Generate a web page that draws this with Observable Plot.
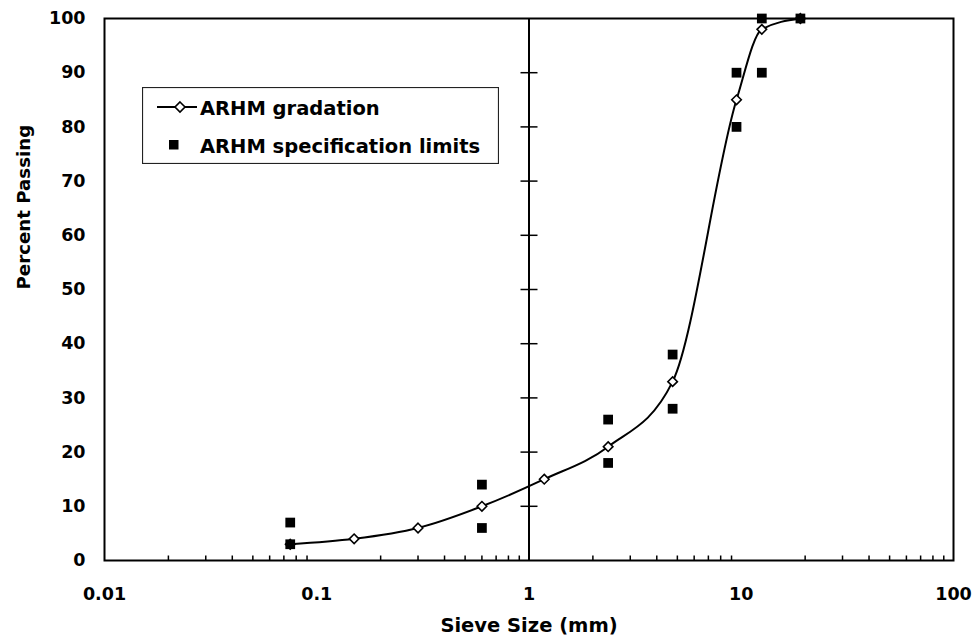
<!DOCTYPE html>
<html>
<head>
<meta charset="utf-8">
<script src="https://cdn.jsdelivr.net/npm/d3@7"></script>
<script src="https://cdn.jsdelivr.net/npm/@observablehq/plot@0.6"></script>
<style>
  body { margin: 0; background: #fff; }
  #chart { position: relative; width: 975px; height: 644px; }
  #legend { position: absolute; left: 142px; top: 87px; }
</style>
</head>
<body>
<div id="chart"></div>
<script>
// Gradation curve (open diamonds)
const sieveSizes = [0.075, 0.15, 0.3, 0.6, 1.18, 2.36, 4.75, 9.5, 12.5, 19];
const percentPassing = [3, 4, 6, 10, 15, 21, 33, 85, 98, 100];
// Specification limits (filled squares)
const specSizes = [0.075, 0.075, 0.6, 0.6, 2.36, 2.36, 4.75, 4.75, 9.5, 9.5, 12.5, 12.5, 19];
const specLimits = [3, 7, 6, 14, 18, 26, 28, 38, 80, 90, 90, 100, 100];
// Axes
const xMajorTicks = [0.01, 0.1, 1, 10, 100];
const xMinorMultipliers = [2, 3, 4, 5, 6, 7, 8, 9];
const yTickValues = [0, 10, 20, 30, 40, 50, 60, 70, 80, 90, 100];
const yCrossTicks = [10, 20, 30, 40, 50, 60, 70, 80, 90];
const seriesNames = ["ARHM gradation", "ARHM specification limits"];
const xTitle = "Sieve Size (mm)";
const yTitle = "Percent Passing";

const gradation = sieveSizes.map((s, i) => ({size: s, pass: percentPassing[i]}));
const spec = specSizes.map((s, i) => ({size: s, pass: specLimits[i]}));
const xMinorTicks = xMajorTicks.slice(0, -1).flatMap(d => xMinorMultipliers.map(k => k * d));

const FONT = "DejaVu Sans";

// custom symbols for axis decorations
const hLine = {draw(ctx, size) { const r = Math.sqrt(size / Math.PI); ctx.moveTo(-r, 0); ctx.lineTo(r, 0); }};
const vUp = {draw(ctx, size) { const r = Math.sqrt(size / Math.PI); ctx.moveTo(0, 0); ctx.lineTo(0, -r); }};

const plot = Plot.plot({
  width: 975,
  height: 644,
  marginLeft: 104,
  marginRight: 22,
  marginTop: 18,
  marginBottom: 84,
  style: {fontFamily: FONT, fontWeight: "bold", fontSize: "17.5px", color: "#000", background: "#fff"},
  x: {type: "log", domain: [0.01, 100]},
  y: {domain: [0, 100]},
  marks: [
    Plot.axisY(yTickValues, {tickSize: 0, tickPadding: 19, label: null, fontSize: 17.5, fontWeight: "bold"}),
    Plot.axisX(xMajorTicks, {tickSize: 0, tickPadding: 27, label: null, tickFormat: d => String(d), fontSize: 17.5, fontWeight: "bold"}),
    Plot.text([xTitle], {text: d => d, frameAnchor: "bottom", dy: 71, fontSize: 19.5, fontWeight: "bold"}),
    Plot.text([yTitle], {text: d => d, frameAnchor: "left", dx: -80, rotate: -90, fontSize: 18.2, fontWeight: "bold"}),
    Plot.dot(xMinorTicks, {x: d => d, y: () => 0, symbol: vUp, r: 5, stroke: "#000", strokeWidth: 1.5, fill: "none"}),
    Plot.ruleX([1], {stroke: "#000", strokeWidth: 2}),
    Plot.dot(yCrossTicks, {x: () => 1, y: d => d, symbol: hLine, r: 8.5, stroke: "#000", strokeWidth: 1.5, fill: "none"}),
    Plot.frame({stroke: "#000", strokeWidth: 2}),
    Plot.line(gradation, {x: "size", y: "pass", curve: "monotone-x", stroke: "#000", strokeWidth: 2}),
    Plot.dot(gradation, {x: "size", y: "pass", symbol: "diamond2", r: 4.3, fill: "#fff", stroke: "#000", strokeWidth: 1.6}),
    Plot.dot(spec, {x: "size", y: "pass", symbol: "square", r: 5.5, fill: "#000", stroke: "none"})
  ]
});

const chart = document.getElementById("chart");
chart.appendChild(plot);

// Legend overlay inside the plot area
const ns = "http://www.w3.org/2000/svg";
const lg = document.createElementNS(ns, "svg");
lg.setAttribute("id", "legend");
lg.setAttribute("width", 357);
lg.setAttribute("height", 77);
lg.innerHTML = `
  <rect x="0.5" y="0.5" width="356" height="76" fill="#fff" stroke="#222" stroke-width="1.2"/>
  <line x1="15" y1="20" x2="55" y2="20" stroke="#000" stroke-width="2"/>
  <path d="M38,15L43,20L38,25L33,20Z" fill="#fff" stroke="#000" stroke-width="1.6"/>
  <rect x="27" y="53" width="9.5" height="9.5" fill="#000"/>
  <text x="58" y="28" font-family="${FONT}" font-weight="bold" font-size="19.5px">${seriesNames[0]}</text>
  <text x="58" y="66" font-family="${FONT}" font-weight="bold" font-size="19.5px">${seriesNames[1]}</text>
`;
chart.appendChild(lg);
</script>
</body>
</html>
